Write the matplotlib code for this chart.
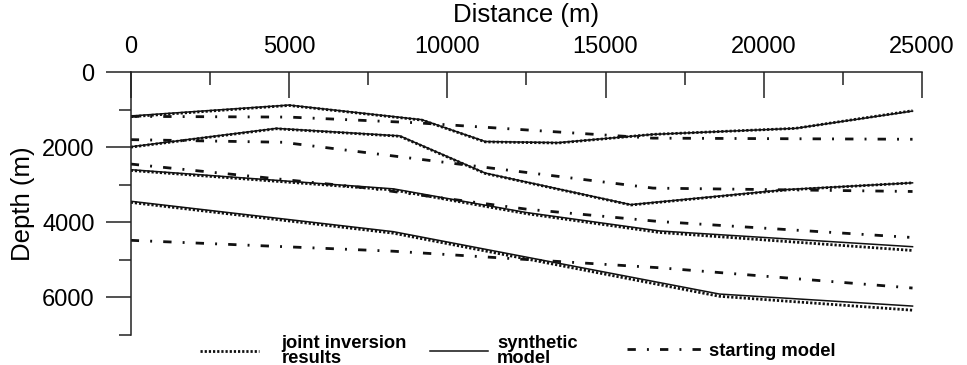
import matplotlib.pyplot as plt
from matplotlib.lines import Line2D
from matplotlib.ticker import MultipleLocator

plt.rcParams['font.family'] = ['Liberation Sans', 'DejaVu Sans']

# interface picks: distance (m) and depth (m), one list per interface
synthetic_x = [
    [0, 5000, 9200, 11200, 13500, 16500, 21000, 24700],
    [0, 4600, 8500, 11200, 15800, 20700, 24700],
    [0, 8300, 12500, 16700, 24700],
    [0, 8300, 18600, 24700],
]
synthetic_z = [
    [1170, 880, 1270, 1850, 1880, 1660, 1500, 1040],
    [1990, 1500, 1700, 2690, 3530, 3130, 2950],
    [2600, 3110, 3740, 4230, 4650],
    [3440, 4250, 5910, 6230],
]

joint_x = synthetic_x
joint_z = [
    [1190, 890, 1280, 1860, 1890, 1660, 1500, 1030],
    [2000, 1510, 1710, 2700, 3540, 3140, 2950],
    [2620, 3140, 3770, 4270, 4750],
    [3470, 4290, 5970, 6340],
]

starting_x = [
    [0, 5000, 9000, 16500, 24700],
    [0, 4800, 16500, 24700],
    [0, 7400, 12500, 16700, 24600],
    [0, 8300, 16700, 24700],
]
starting_z = [
    [1180, 1200, 1350, 1760, 1790],
    [1800, 1870, 3090, 3180],
    [2450, 3080, 3650, 3980, 4400],
    [4480, 4770, 5210, 5750],
]

line_color = '#111111'
dotted = dict(color=line_color, lw=2.0, linestyle=(0, (0.8, 0.7)))
solid = dict(color=line_color, lw=1.1, linestyle='-')
dashdot = dict(color=line_color, lw=2.0, linestyle=(0, (3, 4, 0.7, 4)))

fig = plt.figure(figsize=(9.67, 3.65), dpi=100)
ax = fig.add_axes([0.1352, 0.0822, 0.9535 - 0.1352, 0.8027 - 0.0822])

for xs, zs in zip(synthetic_x, synthetic_z):
    ax.plot(xs, zs, **solid)
for xs, zs in zip(joint_x, joint_z):
    ax.plot(xs, zs, **dotted)
for xs, zs in zip(starting_x, starting_z):
    ax.plot(xs, zs, **dashdot)

ax.set_xlim(0, 25000)
ax.set_ylim(7000, 0)

# axis styling: only top and left spines
for side in ['right', 'bottom']:
    ax.spines[side].set_visible(False)
for side in ['top', 'left']:
    ax.spines[side].set_linewidth(1.1)
    ax.spines[side].set_color('#222222')

ax.xaxis.tick_top()
ax.xaxis.set_label_position('top')
ax.xaxis.set_major_locator(MultipleLocator(5000))
ax.xaxis.set_minor_locator(MultipleLocator(2500))
ax.yaxis.set_major_locator(MultipleLocator(2000))
ax.yaxis.set_minor_locator(MultipleLocator(1000))

ax.tick_params(axis='x', which='major', direction='in', length=18.7, width=1.1,
               pad=10, labelsize=17, color='#222222')
ax.tick_params(axis='x', which='minor', direction='in', length=9.4, width=1.1,
               color='#222222')
ax.tick_params(axis='y', which='major', direction='out', length=18, width=1.1,
               pad=8, labelsize=17, color='#222222')
ax.tick_params(axis='y', which='minor', direction='out', length=8.6, width=1.1,
               color='#222222')

ax.set_xlabel('Distance (m)', fontsize=18.5, labelpad=10)
ax.set_ylabel('Depth (m)', fontsize=18.5, labelpad=5)

# legend: three separate entries under the plot
entries = [
    (dotted, 'joint inversion\nresults', 200 / 967, 3.2, 1.25),
    (solid, 'synthetic\nmodel', 430 / 967, 3.15, 0.5),
    (dashdot, 'starting model', 627 / 967, 4.1, 0.35),
]
for style, label, x0, hlen, tpad in entries:
    handle = Line2D([], [], **style)
    leg = fig.legend([handle], [label], loc='center left',
                     bbox_to_anchor=(x0, 14 / 365), frameon=False,
                     borderpad=0, borderaxespad=0, handlelength=hlen,
                     handletextpad=tpad,
                     prop=dict(weight='bold', size=13.2))
    for t in leg.get_texts():
        t.set_linespacing(0.8)

fig.savefig('out.png', dpi=100)
